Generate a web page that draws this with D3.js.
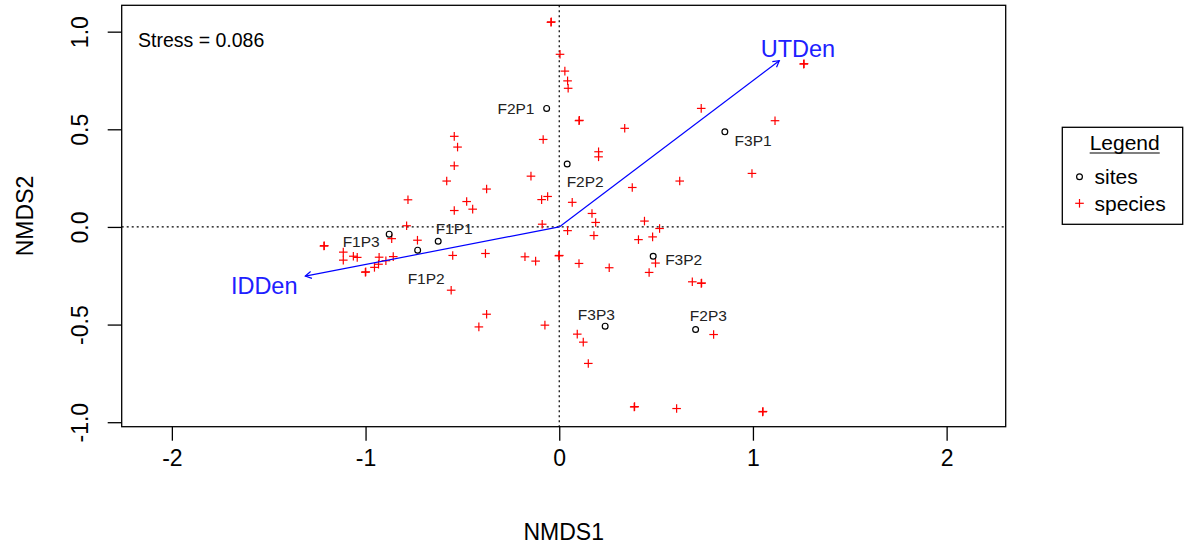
<!DOCTYPE html>
<html>
<head>
<meta charset="utf-8">
<script src="https://cdn.jsdelivr.net/npm/d3@7"></script>
<style>
  body { margin: 0; background: #fff; }
  text { font-family: Arial, "Liberation Sans", sans-serif; }
</style>
</head>
<body>
<svg id="canvas" width="1186" height="548"></svg>
<script>
// NMDS ordination values
let siteNames = ["F1P1", "F1P2", "F1P3", "F2P1", "F2P2", "F2P3", "F3P1", "F3P2", "F3P3"]
let siteX = [-0.625, -0.731, -0.878, -0.065, 0.041, 0.704, 0.855, 0.485, 0.237]
let siteY = [-0.073, -0.119, -0.037, 0.607, 0.322, -0.525, 0.487, -0.150, -0.508]

let speciesX = [
  -0.043, -0.041, 0.004, 0.029, 0.043, 0.046, -0.083, 0.102, 0.104, 0.733,
  1.114, 1.262, 1.264, 0.338, 0.203, 0.203, 0.995, 0.622, 0.377, 0.067,
  -0.060, -0.091, 0.169, 0.188, 0.440, 0.518, -0.088, 0.043, 0.179, 0.409,
  0.482, -0.177, -0.122, -0.002, 0.000, 0.102, 0.258, 0.497, 0.464, 0.687,
  0.733, 0.735, -0.074, 0.093, 0.124, 0.150, 0.797, 0.387, 0.389, 0.606,
  1.050, 1.052, -0.542, -0.525, -0.542, -0.581, -0.146, -0.375, -0.781, -0.478,
  -0.542, -0.447, -0.788, -1.215, -1.213, -0.865, -0.732, -1.115, -1.115, -1.063,
  -1.043, -0.930, -0.857, -0.895, -0.933, -0.954, -1.001, -0.999, -0.550, -0.381,
  -0.558, -0.375, -0.415
]
let speciesY = [
  1.048, 1.050, 0.884, 0.798, 0.748, 0.710, 0.448, 0.544, 0.546, 0.607,
  0.544, 0.834, 0.836, 0.505, 0.385, 0.359, 0.274, 0.235, 0.202, 0.126,
  0.156, 0.140, 0.069, 0.023, 0.030, -0.008, 0.014, -0.019, -0.044, -0.065,
  -0.051, -0.153, -0.175, -0.148, -0.146, -0.187, -0.209, -0.185, -0.233, -0.281,
  -0.289, -0.287, -0.503, -0.549, -0.590, -0.699, -0.551, -0.922, -0.920, -0.930,
  -0.947, -0.945, 0.464, 0.409, 0.313, 0.235, 0.260, 0.194, 0.139, 0.130,
  0.084, 0.091, 0.006, -0.098, -0.096, -0.060, -0.068, -0.129, -0.170, -0.150,
  -0.156, -0.155, -0.152, -0.173, -0.191, -0.207, -0.232, -0.230, -0.146, -0.136,
  -0.324, -0.447, -0.512
]

let vectorNames = ["UTDen", "IDDen"]
let vectorX = [1.136, -1.311]
let vectorY = [0.851, -0.252]

let xTicks = [-2, -1, 0, 1, 2]
let yTicks = [-1.0, -0.5, 0.0, 0.5, 1.0]
let stressValue = 0.086

// layout
let plot = { left: 121.7, right: 1005.7, top: 5.3, bottom: 426.7 }

// label offsets (pixels) relative to each site point
let siteLabelOffset = {
  F1P1: [16, -12.7], F1P2: [8.5, 28.3], F1P3: [-28, 7.7],
  F2P1: [-30.7, 0], F2P2: [18, 17.7], F2P3: [12.8, -13.6],
  F3P1: [28.3, 8.6], F3P2: [30.5, 3.3], F3P3: [-8.8, -12]
}
let vectorLabelOffset = { UTDen: [18.7, -11.4], IDDen: [-41.1, 9.7] }

let canvas = d3.select("#canvas")

let xScale = d3.scaleLinear().domain([-2.259, 2.305]).range([plot.left, plot.right])
let yScale = d3.scaleLinear().domain([-1.023, 1.135]).range([plot.bottom, plot.top])

// zero reference lines
canvas.append("line")
  .attr("x1", plot.left).attr("x2", plot.right)
  .attr("y1", yScale(0)).attr("y2", yScale(0))
  .attr("stroke", "#000").attr("stroke-width", 1.2)
  .attr("stroke-dasharray", "2,3")
canvas.append("line")
  .attr("x1", xScale(0)).attr("x2", xScale(0))
  .attr("y1", plot.top).attr("y2", plot.bottom)
  .attr("stroke", "#000").attr("stroke-width", 1.2)
  .attr("stroke-dasharray", "2,3")

// axes
let xAxis = d3.axisBottom(xScale).tickValues(xTicks).tickSize(14).tickPadding(9)
let gx = canvas.append("g")
  .attr("transform", "translate(0," + plot.bottom + ")")
  .call(xAxis)
gx.select(".domain").remove()
gx.selectAll("line").attr("stroke", "#000").attr("stroke-width", 1.3)
gx.selectAll("text").attr("font-size", "23px").attr("fill", "#000")
  .attr("font-family", "Arial, 'Liberation Sans', sans-serif")
  .text((d) => String(d))

let yAxis = d3.axisLeft(yScale).tickValues(yTicks).tickSize(14)
let gy = canvas.append("g")
  .attr("transform", "translate(" + plot.left + ",0)")
  .call(yAxis)
gy.select(".domain").remove()
gy.selectAll("line").attr("stroke", "#000").attr("stroke-width", 1.3)
gy.selectAll("text")
  .attr("font-size", "23px").attr("fill", "#000")
  .attr("font-family", "Arial, 'Liberation Sans', sans-serif")
  .attr("x", null).attr("y", null).attr("dy", null)
  .attr("text-anchor", "middle")
  .attr("transform", "translate(" + (87.5 - plot.left) + ",0) rotate(-90)")
  .text((d) => d.toFixed(1))

// plot frame
canvas.append("rect")
  .attr("x", plot.left).attr("y", plot.top)
  .attr("width", plot.right - plot.left).attr("height", plot.bottom - plot.top)
  .attr("fill", "none").attr("stroke", "#000").attr("stroke-width", 1.3)

// axis titles
canvas.append("text")
  .attr("x", (plot.left + plot.right) / 2).attr("y", 540)
  .attr("text-anchor", "middle").attr("font-size", "23px")
  .text("NMDS1")
canvas.append("text")
  .attr("transform", "translate(33," + ((plot.top + plot.bottom) / 2) + ") rotate(-90)")
  .attr("text-anchor", "middle").attr("font-size", "23px")
  .text("NMDS2")

// stress
canvas.append("text")
  .attr("x", 138).attr("y", 47.3)
  .attr("font-size", "19.5px")
  .text("Stress = " + stressValue.toFixed(3))

// species points
let species = speciesX.map((x, i) => ({ x: x, y: speciesY[i] }))
let cross = 4.3
let sp = canvas.append("g").attr("stroke", "#ff0000").attr("stroke-width", 1.2)
species.forEach((d) => {
  let cx = xScale(d.x), cy = yScale(d.y)
  sp.append("line").attr("x1", cx - cross).attr("x2", cx + cross).attr("y1", cy).attr("y2", cy)
  sp.append("line").attr("x1", cx).attr("x2", cx).attr("y1", cy - cross).attr("y2", cy + cross)
})

// fitted vectors
let vectors = vectorNames.map((n, i) => ({ name: n, x: vectorX[i], y: vectorY[i] }))
let vg = canvas.append("g")
vectors.forEach((v) => {
  let x0 = xScale(0), y0 = yScale(0), x1 = xScale(v.x), y1 = yScale(v.y)
  vg.append("line")
    .attr("x1", x0).attr("y1", y0).attr("x2", x1).attr("y2", y1)
    .attr("stroke", "#0000ff").attr("stroke-width", 1.2)
  let ang = Math.atan2(y1 - y0, x1 - x0)
  let head = 7
  let path = d3.path()
  path.moveTo(x1 - head * Math.cos(ang - Math.PI / 6), y1 - head * Math.sin(ang - Math.PI / 6))
  path.lineTo(x1, y1)
  path.lineTo(x1 - head * Math.cos(ang + Math.PI / 6), y1 - head * Math.sin(ang + Math.PI / 6))
  vg.append("path").attr("d", path.toString())
    .attr("fill", "none").attr("stroke", "#0000ff").attr("stroke-width", 1.2)
  let off = vectorLabelOffset[v.name]
  vg.append("text")
    .attr("x", x1 + off[0]).attr("y", y1 + off[1])
    .attr("text-anchor", "middle").attr("dominant-baseline", "central")
    .attr("font-size", "23.5px").attr("fill", "#2020ff")
    .text(v.name)
})

// site points and labels
let sites = siteNames.map((n, i) => ({ name: n, x: siteX[i], y: siteY[i] }))
let sg = canvas.append("g")
sg.selectAll("circle")
  .data(sites)
  .enter()
  .append("circle")
  .attr("cx", (d) => xScale(d.x))
  .attr("cy", (d) => yScale(d.y))
  .attr("r", 2.9)
  .attr("fill", "none").attr("stroke", "#000").attr("stroke-width", 1.2)
sg.selectAll("text")
  .data(sites)
  .enter()
  .append("text")
  .attr("x", (d) => xScale(d.x) + siteLabelOffset[d.name][0])
  .attr("y", (d) => yScale(d.y) + siteLabelOffset[d.name][1])
  .attr("text-anchor", "middle").attr("dominant-baseline", "central")
  .attr("font-size", "15.5px").attr("fill", "#222")
  .text((d) => d.name)

// legend
let legend = canvas.append("g")
legend.append("rect")
  .attr("x", 1062.3).attr("y", 127.3).attr("width", 120.4).attr("height", 97)
  .attr("fill", "#fff").attr("stroke", "#000").attr("stroke-width", 1.3)
let title = legend.append("text")
  .attr("x", 1124.7).attr("y", 150).attr("text-anchor", "middle")
  .attr("font-size", "21px").text("Legend")
let tw = title.node().getComputedTextLength()
legend.append("line")
  .attr("x1", 1124.7 - tw / 2).attr("x2", 1124.7 + tw / 2)
  .attr("y1", 153).attr("y2", 153)
  .attr("stroke", "#000").attr("stroke-width", 1.2)
legend.append("circle")
  .attr("cx", 1079.5).attr("cy", 176.7).attr("r", 2.9)
  .attr("fill", "none").attr("stroke", "#000").attr("stroke-width", 1.2)
legend.append("text").attr("x", 1094.5).attr("y", 176.7)
  .attr("dominant-baseline", "central").attr("font-size", "21px").text("sites")
legend.append("line").attr("x1", 1079.5 - cross).attr("x2", 1079.5 + cross)
  .attr("y1", 203.3).attr("y2", 203.3).attr("stroke", "#ff0000").attr("stroke-width", 1.2)
legend.append("line").attr("x1", 1079.5).attr("x2", 1079.5)
  .attr("y1", 203.3 - cross).attr("y2", 203.3 + cross).attr("stroke", "#ff0000").attr("stroke-width", 1.2)
legend.append("text").attr("x", 1094.5).attr("y", 203.3)
  .attr("dominant-baseline", "central").attr("font-size", "21px").text("species")
</script>
</body>
</html>
